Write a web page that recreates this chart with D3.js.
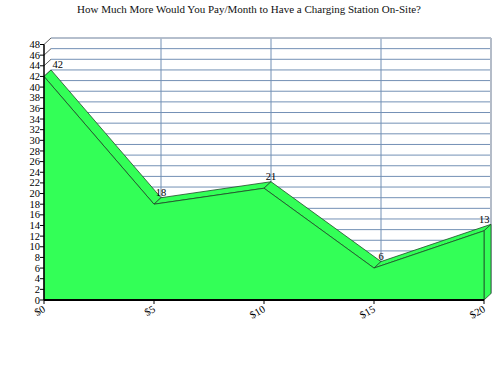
<!DOCTYPE html>
<html><head><meta charset="utf-8">
<script src="https://cdn.jsdelivr.net/npm/d3@7"></script>
<style>body{margin:0;background:#fff}svg{display:block}text{font-family:"Liberation Serif","Times New Roman",serif}</style>
</head><body>
<script>
const title = "How Much More Would You Pay/Month to Have a Charging Station On-Site?";
const categories = ["$0", "$5", "$10", "$15", "$20"];
const values = [42, 18, 21, 6, 13];
const yTicks = d3.range(0, 49, 2);

const W = 499, H = 366;
const svg = d3.select("body").append("svg").attr("width", W).attr("height", H);
const x = d3.scalePoint(categories, [44, 484]);
const y = d3.scaleLinear([0, 48], [300, 44.5]);
const dx = 7, dy = -6.5;
const green = "#33ff57", edge = "#1f4a28", grid = "#7390b5";

svg.append("text").attr("x", 249).attr("y", 13).attr("text-anchor", "middle")
  .attr("font-size", 11).attr("fill", "#111").text(title);

// back wall
const bx0 = x.range()[0] + dx, bx1 = x.range()[1] + dx;
const byTop = y(48) + dy, byBot = y(0) + dy;
svg.append("rect").attr("x", bx0).attr("y", byTop).attr("width", bx1 - bx0).attr("height", byBot - byTop).attr("fill", "#fff");

const g = svg.append("g");
yTicks.forEach(v => {
  g.append("line").attr("x1", bx0).attr("x2", bx1).attr("y1", y(v) + dy).attr("y2", y(v) + dy)
    .attr("stroke", grid).attr("stroke-width", 1);
  g.append("line").attr("x1", x.range()[0]).attr("x2", bx0).attr("y1", y(v)).attr("y2", y(v) + dy)
    .attr("stroke", "#333").attr("stroke-width", 0.8);
});
categories.slice(1, -1).forEach(c => {
  g.append("line").attr("x1", x(c) + dx).attr("x2", x(c) + dx).attr("y1", byTop).attr("y2", byBot)
    .attr("stroke", grid).attr("stroke-width", 1);
});
// wall borders
svg.append("line").attr("x1", bx0).attr("x2", bx1).attr("y1", byTop).attr("y2", byTop).attr("stroke", "#b4bcc8").attr("stroke-width", 1.5);
svg.append("line").attr("x1", bx1).attr("x2", bx1).attr("y1", byTop).attr("y2", byBot).attr("stroke", "#b4bcc8").attr("stroke-width", 2);

// top strips
const pts = categories.map((c, i) => ({fx: x(c), fy: y(values[i]), bx: x(c) + dx, by: y(values[i]) + dy}));
for (let i = 0; i < pts.length - 1; i++) {
  const a = pts[i], b = pts[i + 1];
  svg.append("path").attr("d", `M${a.fx},${a.fy}L${b.fx},${b.fy}L${b.bx},${b.by}L${a.bx},${a.by}Z`)
    .attr("fill", green).attr("stroke", edge).attr("stroke-width", 0.8).attr("stroke-linejoin", "round");
}
// right face
const last = pts[pts.length - 1];
svg.append("path").attr("d", `M${last.fx},${last.fy}L${last.bx},${last.by}L${last.bx},${y(0) + dy}L${last.fx},${y(0)}Z`)
  .attr("fill", green).attr("stroke", edge).attr("stroke-width", 0.8);
// front face
const area = d3.area().x((d, i) => x(categories[i])).y0(y(0)).y1(d => y(d));
svg.append("path").attr("d", area(values)).attr("fill", green).attr("stroke", edge).attr("stroke-width", 0.8);

// axes
svg.append("line").attr("x1", 44).attr("x2", 44).attr("y1", y(0)).attr("y2", y(48)).attr("stroke", "#000").attr("stroke-width", 1.5);
svg.append("line").attr("x1", 44).attr("x2", x.range()[1]).attr("y1", y(0)).attr("y2", y(0)).attr("stroke", "#000").attr("stroke-width", 2);

const ya = svg.append("g");
yTicks.forEach(v => {
  ya.append("line").attr("x1", 40).attr("x2", 44).attr("y1", y(v)).attr("y2", y(v)).attr("stroke", "#000");
  ya.append("text").attr("x", 40).attr("y", y(v) + 3.6).attr("text-anchor", "end").attr("font-size", 10.5).text(v);
});
categories.forEach(c => {
  svg.append("line").attr("x1", x(c)).attr("x2", x(c)).attr("y1", y(0)).attr("y2", y(0) + 4).attr("stroke", "#000");
  svg.append("text").attr("transform", `translate(${x(c) + 2},${y(0) + 11}) rotate(-30)`)
    .attr("text-anchor", "end").attr("font-size", 10.5).text(c);
});

// data labels
pts.forEach((p, i) => {
  const t = svg.append("text").attr("y", p.by - 1.5).attr("text-anchor", "middle").attr("font-size", 10.5).text(values[i]);
  const w = t.node().getComputedTextLength();
  const cx = Math.max(bx0 + w / 2 + 1.5, Math.min(bx1 - w / 2 - 1.5, p.bx));
  t.attr("x", cx);
});
</script>
</body></html>
